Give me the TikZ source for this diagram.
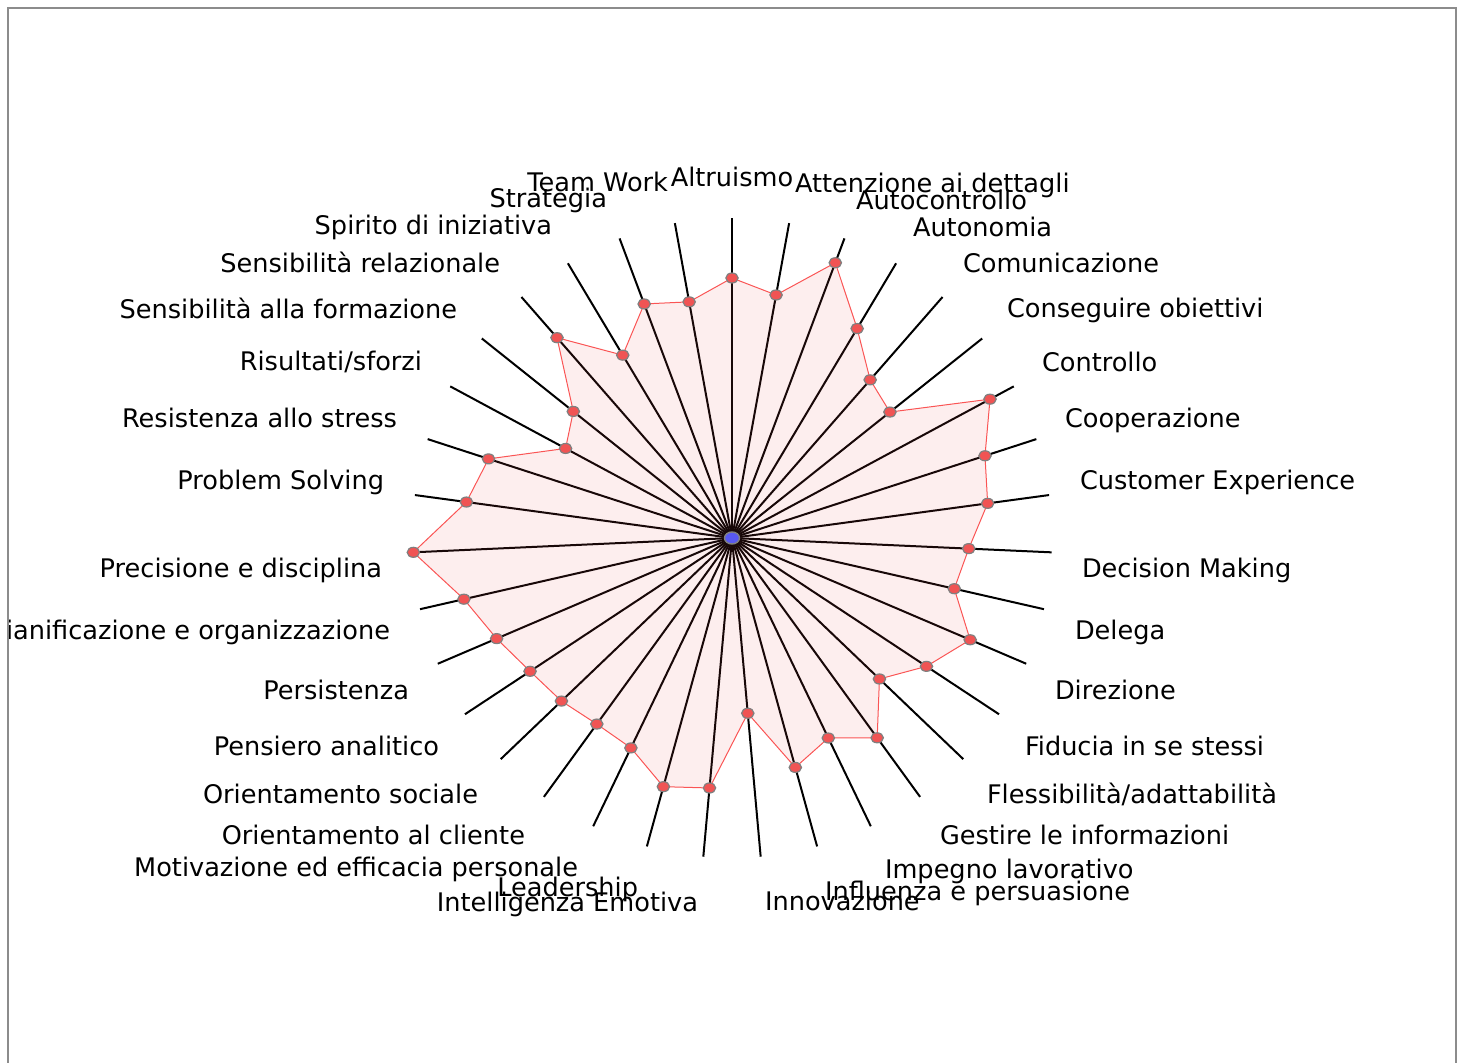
\documentclass[tikz,border=0pt]{standalone}
\usepackage{fontspec}
\setmainfont{DejaVu Sans}
\usetikzlibrary{shapes.geometric}
\definecolor{dotred}{RGB}{240,84,84}
\definecolor{polyred}{RGB}{250,85,85}
\definecolor{framegray}{RGB}{140,140,140}
\definecolor{dotgray}{RGB}{128,128,128}
\definecolor{dotblue}{RGB}{88,88,240}
\begin{document}
\begin{tikzpicture}[x=0.5pt,y=-0.5pt,
  lbl/.style={inner sep=0pt, outer sep=0pt, font=\fontsize{12.8pt}{15pt}\selectfont},
  lw/.style={lbl, anchor=base west},
  le/.style={lbl, anchor=base east},
  spoke/.style={line width=1pt, black},
  dot/.style={ellipse, draw=dotgray, line width=0.6pt, fill=dotred, inner sep=0pt, minimum width=6.2pt, minimum height=5pt},
  centerdot/.style={ellipse, draw=dotgray, line width=0.7pt, fill=dotblue, inner sep=0pt, minimum width=7.5pt, minimum height=6pt}]
\useasboundingbox (0,0) rectangle (1463,1063);
\draw[framegray, line width=1pt] (8,1063) -- (8,8) -- (1456,8) -- (1456,1063);
\begin{scope}
\clip (9,9) rectangle (1455,1063);
\coordinate (o) at (732,538);
\foreach \r [count=\i from 0] in {260,247,294,244,210,202,293,266,258,237,228,259,233,204,247,222,238,176,251,258,233,230,236,242,256,275,319,268,256,189,203,266,213,250,240}{
  \coordinate (e\i) at ({732+320*sin(\i*360/35)},{538-320*cos(\i*360/35)});
  \coordinate (p\i) at ({732+\r*sin(\i*360/35)},{538-\r*cos(\i*360/35)});
}
\foreach \i in {0,...,34} \draw[spoke] (o) -- (e\i);
\fill[dotred, opacity=0.1] (p0) \foreach \i in {1,...,34}{ -- (p\i)} -- cycle;
\draw[polyred, line width=0.5pt] (p0) \foreach \i in {1,...,34}{ -- (p\i)} -- cycle;
\foreach \i in {0,...,34} \node[dot] (d\i) at (p\i) {};
\node[centerdot] (c) at (o) {};

\node[lbl, anchor=base] (l0) at (732,187) {Altruismo};
\node[lw] (l1) at (795,193) {Attenzione ai dettagli};
\node[lw] (l2) at (856,210) {Autocontrollo};
\node[lw] (l3) at (913,237) {Autonomia};
\node[lw] (l4) at (963,273) {Comunicazione};
\node[lw] (l5) at (1007,318) {Conseguire obiettivi};
\node[lw] (l6) at (1042,372) {Controllo};
\node[lw] (l7) at (1065,428) {Cooperazione};
\node[lw] (l8) at (1080,490) {Customer Experience};
\node[lw] (l9) at (1082,578) {Decision Making};
\node[lw] (l10) at (1075,640) {Delega};
\node[lw] (l11) at (1055,700) {Direzione};
\node[lw] (l12) at (1025,756) {Fiducia in se stessi};
\node[lw] (l13) at (987,804) {Flessibilità/adattabilità};
\node[lw] (l14) at (940,845) {Gestire le informazioni};
\node[lw] (l15) at (885,878) {Impegno lavorativo};
\node[lw] (l16) at (825,900) {Influenza e persuasione};
\node[lw] (l17) at (765,911) {Innovazione};
\node[le] (l18) at (698,912) {Intelligenza Emotiva};
\node[le] (l19) at (638,897) {Leadership};
\node[le] (l20) at (578,877) {Motivazione ed efficacia personale};
\node[le] (l21) at (525,845) {Orientamento al cliente};
\node[le] (l22) at (478,804) {Orientamento sociale};
\node[le] (l23) at (439,756) {Pensiero analitico};
\node[le] (l24) at (409,700) {Persistenza};
\node[le] (l25) at (390,640) {Pianificazione e organizzazione};
\node[le] (l26) at (382,578) {Precisione e disciplina};
\node[le] (l27) at (384,490) {Problem Solving};
\node[le] (l28) at (397,428) {Resistenza allo stress};
\node[le] (l29) at (422,371) {Risultati/sforzi};
\node[le] (l30) at (457,319) {Sensibilità alla formazione};
\node[le] (l31) at (500,273) {Sensibilità relazionale};
\node[le] (l32) at (552,235) {Spirito di iniziativa};
\node[le] (l33) at (607,208) {Strategia};
\node[le] (l34) at (668,192) {Team Work};
\end{scope}
\end{tikzpicture}
\end{document}
